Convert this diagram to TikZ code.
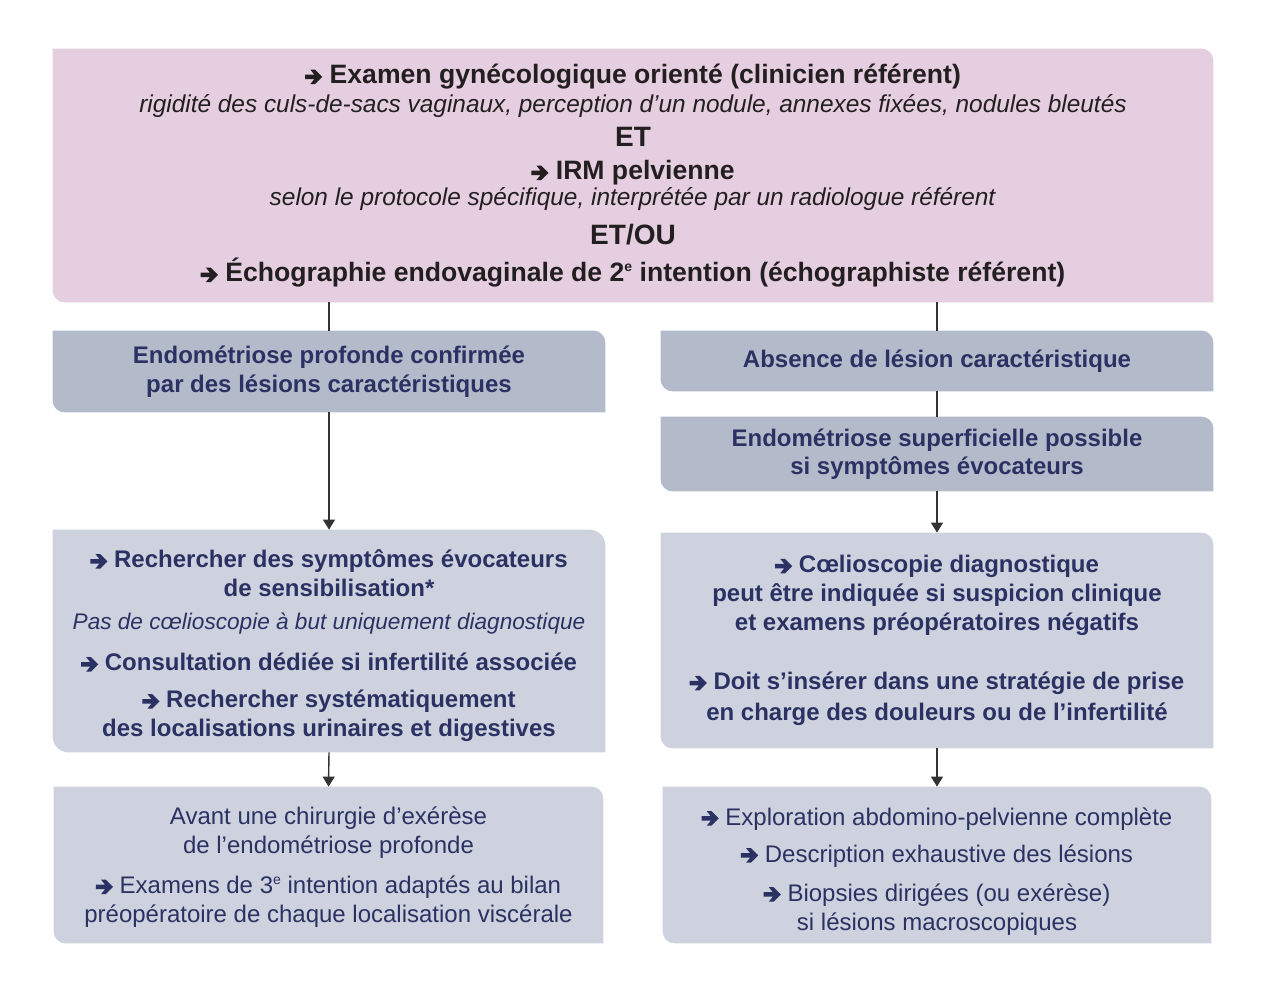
\documentclass[tikz,border=0pt]{standalone}
\usepackage{fontspec}
\setmainfont{Liberation Sans}
\usepackage{graphicx}
\usetikzlibrary{arrows.meta,backgrounds,positioning}

\definecolor{rose}{HTML}{E4CEE0}
\definecolor{ardoise}{HTML}{B3BBCB}
\definecolor{brume}{HTML}{CDD2DE}
\definecolor{marine}{HTML}{2B3263}
\definecolor{encre}{HTML}{231F20}

% heavy arrow put in front of the items
\newcommand\fleche{\tikz[baseline=-3.3pt,x=1pt,y=1pt]\fill (0,-1.1) -- (4.6,-1.1) -- (2.6,-3.6) -- (5,-3.6) -- (8.6,0) -- (5,3.6) -- (2.6,3.6) -- (4.6,1.1) -- (0,1.1) -- cycle;\ }
\newcommand\expo[1]{\raisebox{.7ex}{\fontsize{7}{7}\selectfont #1}}
% box with two rounded corners (north east, south west)
\newcommand\leaf[3][6pt]{\fill[#3] (#2.south west) ++(0,#1) -- (#2.north west) -- ([xshift=-#1]#2.north east) arc[start angle=90,end angle=0,radius=#1] -- (#2.south east) -- ([xshift=#1]#2.south west) arc[start angle=270,end angle=180,radius=#1] -- cycle;}

\begin{document}
\begin{tikzpicture}[x=0.5pt,y=-0.5pt]

\tikzset{box/.style={inner sep=0pt,align=center,text=marine,font=\fontsize{12}{14.5}\selectfont},
  link/.style={draw=black!80,line width=0.7pt},
  flow/.style={link,-{Triangle[length=5pt,width=6pt]}}}

\useasboundingbox (0,0) rectangle (1280,1007);

\node[box,text=encre,font=\fontsize{12.2}{13}\selectfont,minimum width=580pt,minimum height=126.5pt] (exam) at (633,175.5)
  {{\fontsize{13.3}{13}\selectfont\bfseries\fleche Examen gynécologique orienté (clinicien référent)}\\[1.5pt]
   \textit{rigidité des culs-de-sacs vaginaux, perception d’un nodule, annexes fixées, nodules bleutés}\\[4pt]
   {\fontsize{14}{14}\selectfont\bfseries ET}\\[3.5pt]
   {\fontsize{13.3}{13}\selectfont\bfseries\fleche IRM pelvienne}\\
   \textit{selon le protocole spécifique, interprétée par un radiologue référent}\\[6.5pt]
   {\fontsize{14}{14}\selectfont\bfseries ET/OU}\\[5.5pt]
   {\fontsize{13.3}{13}\selectfont\bfseries\fleche Échographie endovaginale de 2\expo{e} intention (échographiste référent)}};

\node[box,font=\fontsize{12}{14.5}\selectfont\bfseries,minimum width=276pt,minimum height=40.5pt] (pfd) at (329,371.5)
  {Endométriose profonde confirmée\\par des lésions caractéristiques};
\node[box,font=\fontsize{12}{14.5}\selectfont\bfseries,minimum width=276pt,minimum height=30pt] (absence) at (937,361)
  {Absence de lésion caractéristique};
\node[box,font=\fontsize{12}{14}\selectfont\bfseries,minimum width=276pt,minimum height=37pt] (superf) at (937,454)
  {Endométriose superficielle possible\\si symptômes évocateurs};

\node[box,font=\fontsize{12}{14.5}\selectfont\bfseries,minimum width=276pt,minimum height=111pt] (rech) at (329,641)
  {\rule{0pt}{14pt}\fleche Rechercher des symptômes évocateurs\\de sensibilisation*\\[2pt]
   {\mdseries\itshape\fontsize{11.3}{14.5}\selectfont Pas de cœlioscopie à but uniquement diagnostique}\\[6pt]
   \fleche Consultation dédiée si infertilité associée\\[4pt]
   \fleche Rechercher systématiquement\\des localisations urinaires et digestives};
\node[box,font=\fontsize{12}{14.5}\selectfont\bfseries,minimum width=276pt,minimum height=107.5pt] (coelio) at (937,640.5)
  {\fleche Cœlioscopie diagnostique\\peut être indiquée si suspicion clinique\\et examens préopératoires négatifs\\[15pt]
   \fleche Doit s’insérer dans une stratégie de prise\\[1pt]en charge des douleurs ou de l’infertilité};

\node[box,minimum width=274.5pt,minimum height=78pt] (avant) at (328.5,865)
  {\rule{0pt}{11pt}Avant une chirurgie d’exérèse\\de l’endométriose profonde\\[5.5pt]
   \fleche Examens de 3\expo{e} intention adaptés au bilan\\préopératoire de chaque localisation viscérale};
\node[box,minimum width=274pt,minimum height=78pt] (explo) at (937,865)
  {\rule{0pt}{15pt}\fleche Exploration abdomino-pelvienne complète\\[4pt]
   \fleche Description exhaustive des lésions\\[5pt]
   \fleche Biopsies dirigées (ou exérèse)\\si lésions macroscopiques};

\begin{scope}[on background layer]
\leaf{exam}{rose}
\leaf{pfd}{ardoise}
\leaf{absence}{ardoise}
\leaf{superf}{ardoise}
\leaf[8pt]{rech}{brume}
\leaf{coelio}{brume}
\leaf{avant}{brume}
\leaf{explo}{brume}
\end{scope}

\draw[link] (pfd.north |- exam.south) -- (pfd.north);
\draw[link] (absence.north |- exam.south) -- (absence.north);
\draw[link] (absence.south) -- (superf.north);
\draw[flow] (pfd.south) -- (rech.north);
\draw[flow] (superf.south) -- (coelio.north);
\draw[flow] (rech.south) -- (avant.north);
\draw[flow] (coelio.south) -- (explo.north);

\end{tikzpicture}
\end{document}
